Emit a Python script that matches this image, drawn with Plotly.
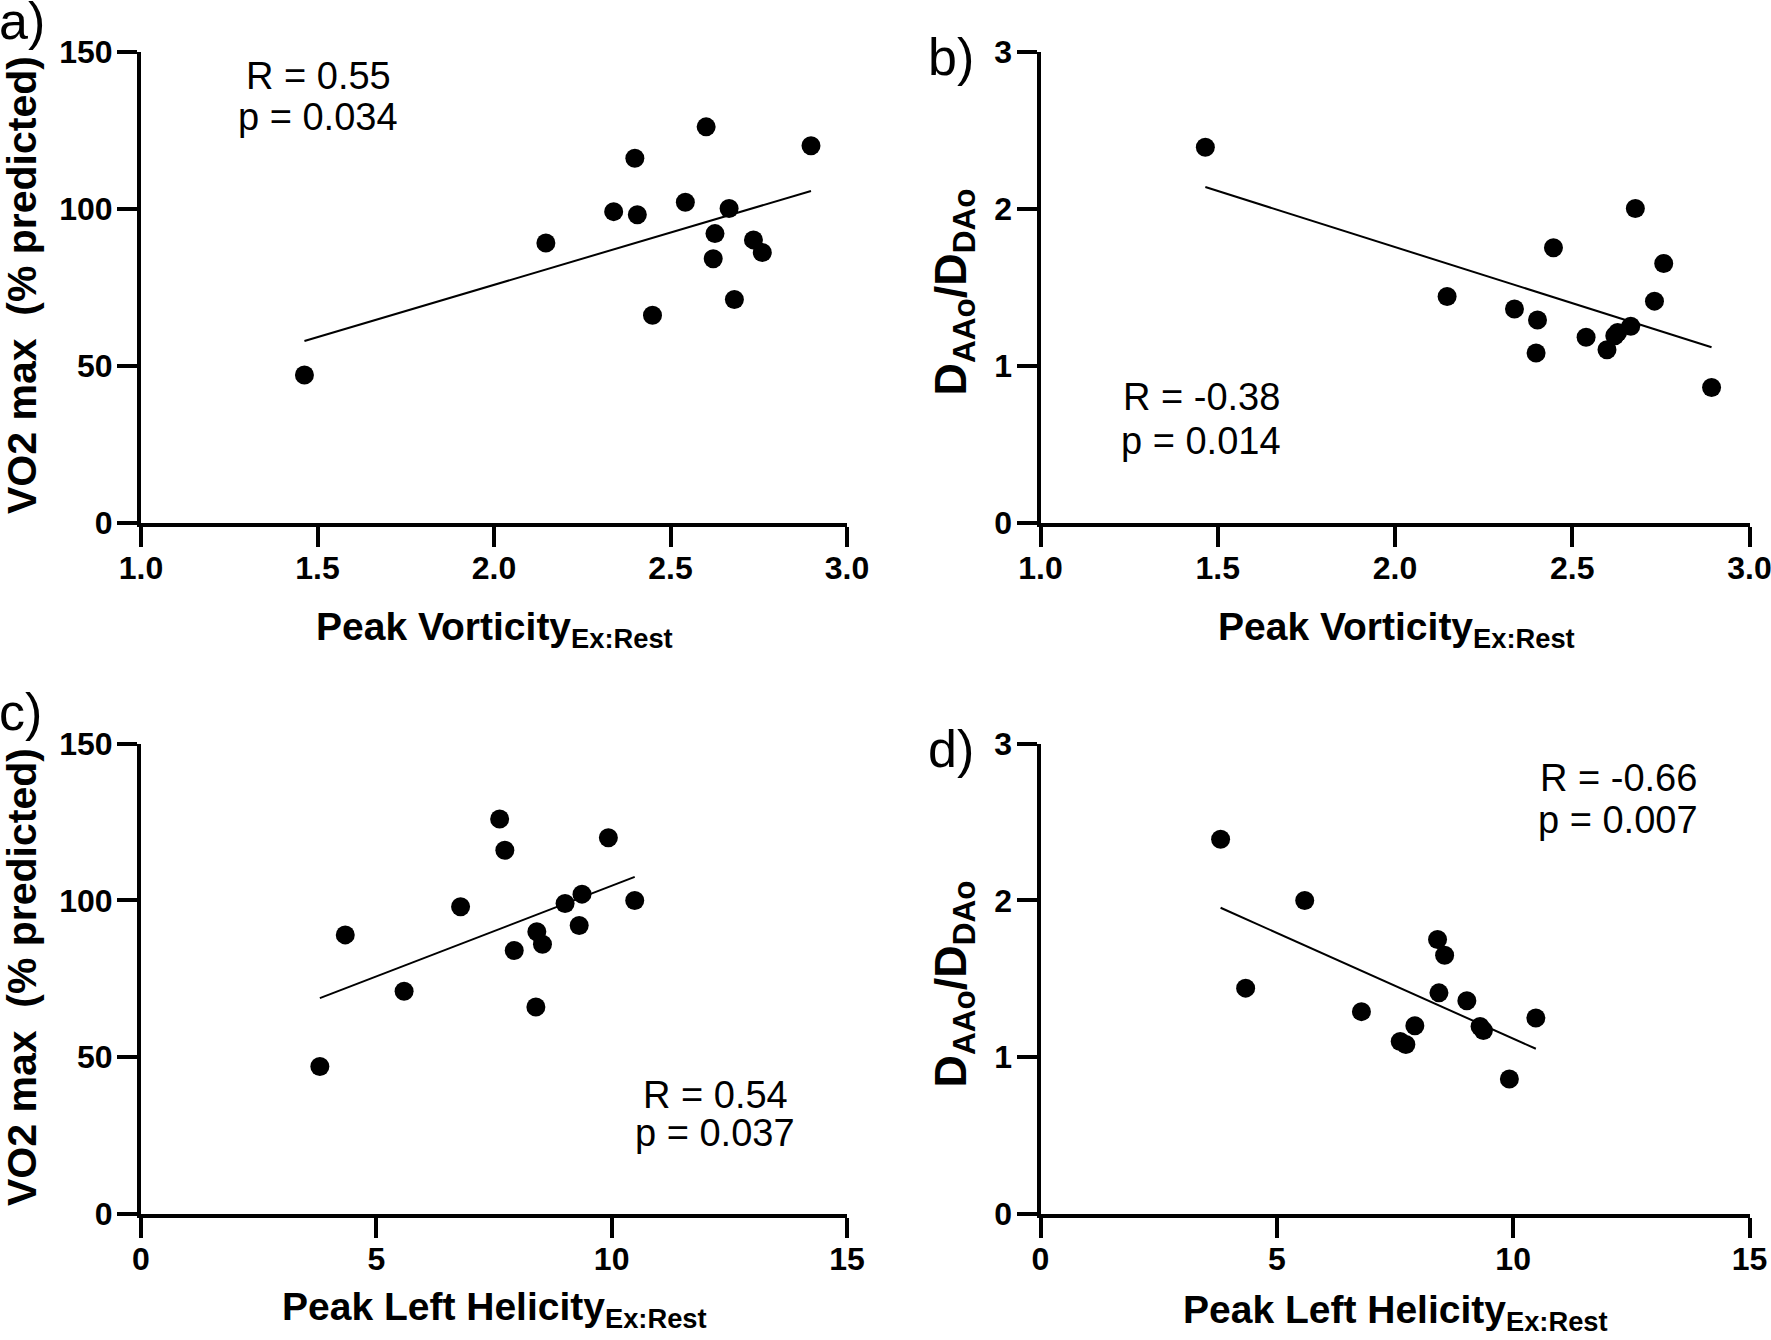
import plotly.graph_objects as go

W, H = 1771, 1340
OFF = 0  # body margin removed by post_script below

# ---------------- data ----------------
vort = [1.463, 2.147, 2.339, 2.399, 2.406, 2.449, 2.542, 2.601, 2.626, 2.621, 2.666, 2.681, 2.735, 2.760, 2.898]
vo2_a = [47, 89, 99, 116, 98, 66, 102, 126, 92, 84, 100, 71, 90, 86, 120]

vort_b = [1.465, 2.147, 2.337, 2.402, 2.398, 2.447, 2.539, 2.598, 2.620, 2.628, 2.665, 2.678, 2.732, 2.758, 2.893]
ratio_b = [2.39, 1.44, 1.36, 1.29, 1.08, 1.75, 1.18, 1.10, 1.19, 1.21, 1.25, 2.00, 1.41, 1.65, 0.86]

helic_c = [3.80, 4.34, 5.59, 6.79, 7.62, 7.73, 7.93, 8.41, 8.39, 8.53, 9.01, 9.31, 9.37, 9.93, 10.49]
vo2_c = [47, 89, 71, 98, 126, 116, 84, 90, 66, 86, 99, 92, 102, 120, 100]

helic_d = [3.81, 4.34, 5.59, 6.79, 7.61, 7.73, 7.92, 8.40, 8.43, 8.55, 9.02, 9.30, 9.37, 9.92, 10.48]
ratio_d = [2.39, 1.44, 2.00, 1.29, 1.10, 1.08, 1.20, 1.75, 1.41, 1.65, 1.36, 1.195, 1.17, 0.86, 1.25]

# regression line end points
fit_a_x, fit_a_y = [1.463, 2.898], [57.8, 105.6]
fit_b_x, fit_b_y = [1.465, 2.893], [2.137, 1.116]
fit_c_x, fit_c_y = [3.80, 10.49], [68.8, 107.5]
fit_d_x, fit_d_y = [3.81, 10.48], [1.953, 1.053]

stats = [("R = 0.55", "p = 0.034"), ("R = -0.38", "p = 0.014"),
         ("R = 0.54", "p = 0.037"), ("R = -0.66", "p = 0.007")]
panel_labels = ["a)", "b)", "c)", "d)"]
xtitle_vort = "Peak Vorticity<sub>Ex:Rest</sub>"
xtitle_helic = "Peak Left Helicity<sub>Ex:Rest</sub>"
ytitle_vo2 = "VO2 max&nbsp;&nbsp;(% predicted)"
ytitle_ratio = "D<sub>AAo</sub>/D<sub>DAo</sub>"

# ---------------- layout helpers (page pixels -> paper fractions) ----------------
def px(x):
    return (x - OFF) / W

def py(y):
    return 1 - (y - OFF) / H

FONT = "Liberation Sans, Arial, sans-serif"

fig = go.Figure()

panels = [
    (vort, vo2_a, fit_a_x, fit_a_y, "x", "y"),
    (vort_b, ratio_b, fit_b_x, fit_b_y, "x2", "y2"),
    (helic_c, vo2_c, fit_c_x, fit_c_y, "x3", "y3"),
    (helic_d, ratio_d, fit_d_x, fit_d_y, "x4", "y4"),
]
for xs, ys, fx, fy, xa, ya in panels:
    fig.add_trace(go.Scatter(x=fx, y=fy, mode="lines", xaxis=xa, yaxis=ya,
                             line=dict(color="black", width=2), showlegend=False,
                             hoverinfo="skip"))
    fig.add_trace(go.Scatter(x=xs, y=ys, mode="markers", xaxis=xa, yaxis=ya,
                             marker=dict(color="black", size=19), showlegend=False,
                             cliponaxis=False))

ax_common = dict(showline=True, linewidth=4, linecolor="black", ticks="outside",
                 ticklen=20, tickwidth=4, tickcolor="black", showgrid=False,
                 zeroline=False, automargin=False, ticklabeloverflow="allow",
                 tickfont=dict(family=FONT, size=32, color="black", weight="bold"),
                 fixedrange=True)
x_extra = dict(ticklabelstandoff=-6)
y_extra = dict(ticklabelstandoff=-2)

xl = [px(141), px(847)]
xr = [px(1040.5), px(1749.5)]
yt = [py(522.5), py(51.5)]
yb = [py(1213.75), py(743.75)]

fig.update_layout(
    width=W, height=H, margin=dict(l=0, r=0, t=0, b=0, autoexpand=False),
    paper_bgcolor="white", plot_bgcolor="white",
    xaxis=dict(domain=xl, range=[1, 3], tickvals=[1, 1.5, 2, 2.5, 3],
               ticktext=["1.0", "1.5", "2.0", "2.5", "3.0"], anchor="y", **ax_common, **x_extra),
    yaxis=dict(domain=yt, range=[0, 150], tickvals=[0, 50, 100, 150], anchor="x",
               **ax_common, **y_extra),
    xaxis2=dict(domain=xr, range=[1, 3], tickvals=[1, 1.5, 2, 2.5, 3],
                ticktext=["1.0", "1.5", "2.0", "2.5", "3.0"], anchor="y2", **ax_common, **x_extra),
    yaxis2=dict(domain=yt, range=[0, 3], tickvals=[0, 1, 2, 3], anchor="x2",
                **ax_common, **y_extra),
    xaxis3=dict(domain=xl, range=[0, 15], tickvals=[0, 5, 10, 15], anchor="y3",
                **ax_common, **x_extra),
    yaxis3=dict(domain=yb, range=[0, 150], tickvals=[0, 50, 100, 150], anchor="x3",
                **ax_common, **y_extra),
    xaxis4=dict(domain=xr, range=[0, 15], tickvals=[0, 5, 10, 15], anchor="y4",
                **ax_common, **x_extra),
    yaxis4=dict(domain=yb, range=[0, 3], tickvals=[0, 1, 2, 3], anchor="x4",
                **ax_common, **y_extra),
)

ann = []

def add_text(text, x, y, size, bold=False, xanchor="center", yanchor="middle", angle=0):
    ann.append(dict(text=text, x=px(x), y=py(y), xref="paper", yref="paper",
                    xanchor=xanchor, yanchor=yanchor, showarrow=False, textangle=angle,
                    font=dict(family=FONT, size=size, color="black",
                              weight="bold" if bold else "normal")))

# stats text (centre x, centre y of each line)
stat_pos = [((318, 76), (318, 117)), ((1201, 397), (1201, 441)),
            ((715, 1095), (715, 1133)), ((1618, 778), (1618, 820))]
for (r, p), ((rx, ry), (qx, qy)) in zip(stats, stat_pos):
    add_text(r, rx, ry, 38)
    add_text(p, qx, qy, 38)

# panel labels
lab_pos = [(-3, 21), (926, 57), (-3, 712), (926, 749)]
for lab, (lx, ly) in zip(panel_labels, lab_pos):
    add_text(lab, lx, ly, 52, xanchor="left")

# x titles (top of text box)
add_text(xtitle_vort, 495, 603, 39, bold=True, yanchor="top")
add_text(xtitle_vort, 1396, 603, 39, bold=True, yanchor="top")
add_text(xtitle_helic, 495, 1283, 39, bold=True, yanchor="top")
add_text(xtitle_helic, 1395, 1286, 39, bold=True, yanchor="top")

# y titles
add_text(ytitle_vo2, 22, 285, 41, bold=True, angle=-90)
add_text(ytitle_vo2, 22, 977, 41, bold=True, angle=-90)
add_text(ytitle_ratio, 922, 292, 45, bold=True, xanchor="left", angle=-90)
add_text(ytitle_ratio, 922, 984, 45, bold=True, xanchor="left", angle=-90)

fig.update_layout(annotations=ann)
fig.write_html("out.html", config={"displayModeBar": False},
               post_script="document.body.style.margin='0';")
